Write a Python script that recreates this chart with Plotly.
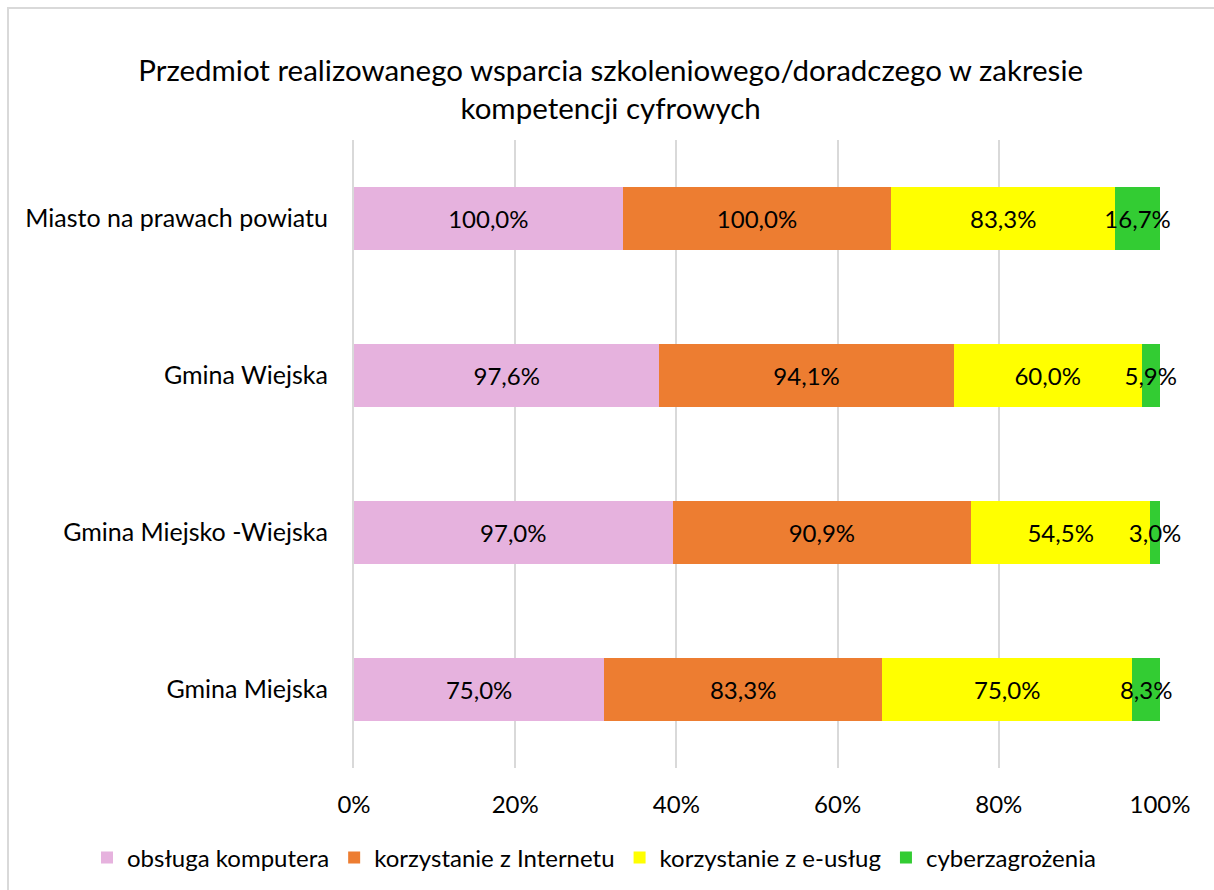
import plotly.graph_objects as go

categories = ["Miasto na prawach powiatu", "Gmina Wiejska", "Gmina Miejsko -Wiejska", "Gmina Miejska"]
series_names = ["obsługa komputera", "korzystanie z Internetu", "korzystanie z e-usług", "cyberzagrożenia"]
obsluga = [100.0, 97.6, 97.0, 75.0]
internet = [100.0, 94.1, 90.9, 83.3]
euslugi = [83.3, 60.0, 54.5, 75.0]
cyber = [16.7, 5.9, 3.0, 8.3]
colors = ["#E6B2DE", "#ED7D31", "#FFFF00", "#33CC33"]
tick_vals = [0, 20, 40, 60, 80, 100]
tick_text = ["0%", "20%", "40%", "60%", "80%", "100%"]

FONT = "Lato"
FS = 24

def fmt(v):
    return f"{v:.1f}".replace(".", ",") + "%"

fig = go.Figure()
for name, vals, col in zip(series_names, [obsluga, internet, euslugi, cyber], colors):
    fig.add_trace(go.Bar(
        y=categories, x=vals, name=name, orientation="h",
        marker=dict(color=col, line=dict(width=0)),
        text=[fmt(v) for v in vals],
        textposition="inside", insidetextanchor="middle",
        constraintext="none", cliponaxis=False, textangle=0,
        textfont=dict(family=FONT, size=FS, color="#000000"),
        hoverinfo="skip",
    ))

fig.update_layout(
    barmode="stack", barnorm="percent", bargap=0.605,
    width=1214, height=890,
    margin=dict(l=354, r=54, t=140, b=122, autoexpand=False),
    paper_bgcolor="white", plot_bgcolor="white",
    font=dict(family=FONT, size=FS, color="#000000"),
    uniformtext=dict(minsize=FS, mode="show"),
    title=dict(
        text="Przedmiot realizowanego wsparcia szkoleniowego/doradczego w zakresie<br>kompetencji cyfrowych",
        x=0.503, xanchor="center", xref="container",
        y=1 - 81 / 890, yanchor="top", yref="container",
        font=dict(family=FONT, size=29.5, color="#000000"),
    ),
    xaxis=dict(
        range=[0, 100.001], tickvals=tick_vals, ticktext=tick_text,
        showgrid=True, gridcolor="#D9D9D9", gridwidth=2,
        zeroline=False, showline=False, ticks="",
        ticklabelstandoff=20,
        tickfont=dict(family=FONT, size=FS),
    ),
    yaxis=dict(
        autorange="reversed", showgrid=False, zeroline=False,
        showline=True, linecolor="#D9D9D9", linewidth=2,
        ticks="", ticklabelstandoff=19,
        tickfont=dict(family=FONT, size=25),
    ),
    legend=dict(
        orientation="h", xref="paper", yref="paper",
        x=-(354 - 87) / 806, xanchor="left", y=-(858 - 768) / 628, yanchor="middle",
        font=dict(family=FONT, size=FS), traceorder="normal",
        itemwidth=30,
    ),
    shapes=[dict(type="rect", xref="paper", yref="paper",
                 x0=-346 / 806, x1=(1230 - 354) / 806,
                 y0=-(900 - 768) / 628, y1=1 + (140 - 8) / 628,
                 line=dict(color="#D9D9D9", width=2), fillcolor="rgba(0,0,0,0)", layer="below")],
)

fig.write_html("out.html", config={"displayModeBar": False},
               post_script="document.body.style.margin='0';document.body.style.overflow='hidden';")
